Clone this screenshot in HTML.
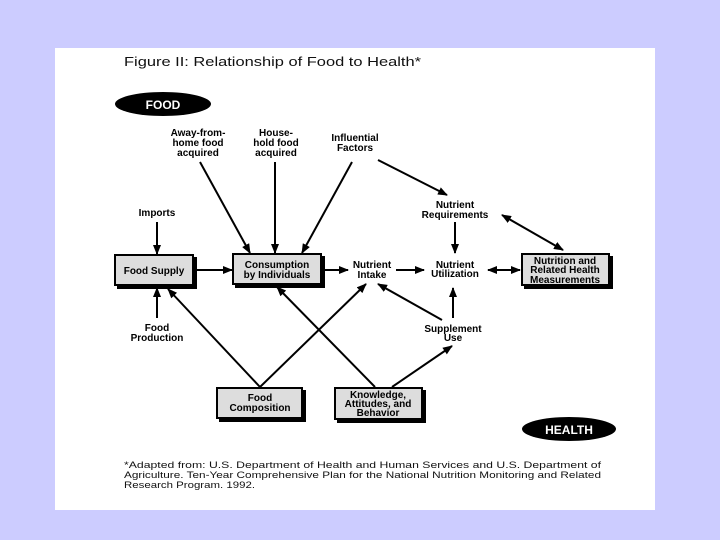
<!DOCTYPE html>
<html><head><style>
html,body{margin:0;padding:0;background:#ccccff;}
svg{display:block;}
text{font-family:"Liberation Sans",sans-serif;}
.b{font-weight:bold;font-size:10px;text-anchor:middle;fill:#000;}
</style></head><body>
<svg width="720" height="540" viewBox="0 0 720 540" xmlns="http://www.w3.org/2000/svg">
<defs>
<marker id="a" markerWidth="10" markerHeight="8" refX="9" refY="4" orient="auto" markerUnits="userSpaceOnUse">
<path d="M0,0 L10,4 L0,8 z" fill="#000"/></marker>
<marker id="s" markerWidth="10" markerHeight="8" refX="1" refY="4" orient="auto" markerUnits="userSpaceOnUse">
<path d="M10,0 L0,4 L10,8 z" fill="#000"/></marker>
</defs>
<rect x="55" y="48" width="600" height="462" fill="#fff"/>
<text x="124" y="66" font-size="12.5" fill="#111" textLength="297" lengthAdjust="spacingAndGlyphs">Figure II: Relationship of Food to Health*</text>
<ellipse cx="163" cy="104" rx="48" ry="12" fill="#000"/>
<text x="163" y="109" font-size="12" font-weight="bold" fill="#fff" text-anchor="middle">FOOD</text>
<ellipse cx="569" cy="429" rx="47" ry="12" fill="#000"/>
<text x="569" y="434" font-size="12" font-weight="bold" fill="#fff" text-anchor="middle">HEALTH</text>

<text class="b" x="198" y="136">Away-from-</text>
<text class="b" x="198" y="146">home food</text>
<text class="b" x="198" y="156">acquired</text>
<text class="b" x="276" y="136">House-</text>
<text class="b" x="276" y="146">hold food</text>
<text class="b" x="276" y="156">acquired</text>
<text class="b" x="355" y="141">Influential</text>
<text class="b" x="355" y="151">Factors</text>
<text class="b" x="455" y="208">Nutrient</text>
<text class="b" x="455" y="218">Requirements</text>
<text class="b" x="157" y="216">Imports</text>
<text class="b" x="372" y="268">Nutrient</text>
<text class="b" x="372" y="278">Intake</text>
<text class="b" x="455" y="268">Nutrient</text>
<text class="b" x="455" y="277">Utilization</text>
<text class="b" x="157" y="331">Food</text>
<text class="b" x="157" y="341">Production</text>
<text class="b" x="453" y="332">Supplement</text>
<text class="b" x="453" y="341">Use</text>

<g stroke="#000" stroke-width="2">
<rect x="118" y="258" width="78" height="30" fill="#000"/>
<rect x="115" y="255" width="78" height="30" fill="#ddd"/>
<rect x="236" y="257" width="88" height="30" fill="#000"/>
<rect x="233" y="254" width="88" height="30" fill="#ddd"/>
<rect x="525" y="257" width="87" height="31" fill="#000"/>
<rect x="522" y="254" width="87" height="31" fill="#ddd"/>
<rect x="220" y="391" width="85" height="30" fill="#000"/>
<rect x="217" y="388" width="85" height="30" fill="#ddd"/>
<rect x="338" y="391" width="87" height="31" fill="#000"/>
<rect x="335" y="388" width="87" height="31" fill="#ddd"/>
</g>
<text class="b" x="154" y="274">Food Supply</text>
<text class="b" x="277" y="268">Consumption</text>
<text class="b" x="277" y="278">by Individuals</text>
<text class="b" x="565" y="264">Nutrition and</text>
<text class="b" x="565" y="273">Related Health</text>
<text class="b" x="565" y="283">Measurements</text>
<text class="b" x="260" y="401">Food</text>
<text class="b" x="260" y="411">Composition</text>
<text class="b" x="378" y="398">Knowledge,</text>
<text class="b" x="378" y="407">Attitudes, and</text>
<text class="b" x="378" y="416">Behavior</text>

<g stroke="#000" stroke-width="2" marker-end="url(#a)">
<line x1="200" y1="162" x2="250" y2="253"/>
<line x1="275" y1="162" x2="275" y2="253"/>
<line x1="352" y1="162" x2="302" y2="253"/>
<line x1="378" y1="160" x2="447" y2="195"/>
<line x1="157" y1="222" x2="157" y2="254"/>
<line x1="193" y1="270" x2="232" y2="270"/>
<line x1="321" y1="270" x2="348" y2="270"/>
<line x1="396" y1="270" x2="424" y2="270"/>
<line x1="488" y1="270" x2="520" y2="270" marker-start="url(#s)"/>
<line x1="502" y1="215" x2="563" y2="250" marker-start="url(#s)"/>
<line x1="455" y1="222" x2="455" y2="253"/>
<line x1="157" y1="318" x2="157" y2="288"/>
<line x1="453" y1="318" x2="453" y2="288"/>
<line x1="442" y1="320" x2="378" y2="284"/>
<line x1="260" y1="387" x2="168" y2="289"/>
<line x1="260" y1="387" x2="366" y2="284"/>
<line x1="375" y1="387" x2="277" y2="287"/>
<line x1="392" y1="387" x2="452" y2="346"/>
</g>

<text x="124" y="468" font-size="9.5" fill="#111" textLength="477" lengthAdjust="spacingAndGlyphs">*Adapted from: U.S. Department of Health and Human Services and U.S. Department of</text>
<text x="124" y="478" font-size="9.5" fill="#111" textLength="477" lengthAdjust="spacingAndGlyphs">Agriculture. Ten-Year Comprehensive Plan for the National Nutrition Monitoring and Related</text>
<text x="124" y="488" font-size="9.5" fill="#111" textLength="131" lengthAdjust="spacingAndGlyphs">Research Program. 1992.</text>
</svg>
</body></html>
